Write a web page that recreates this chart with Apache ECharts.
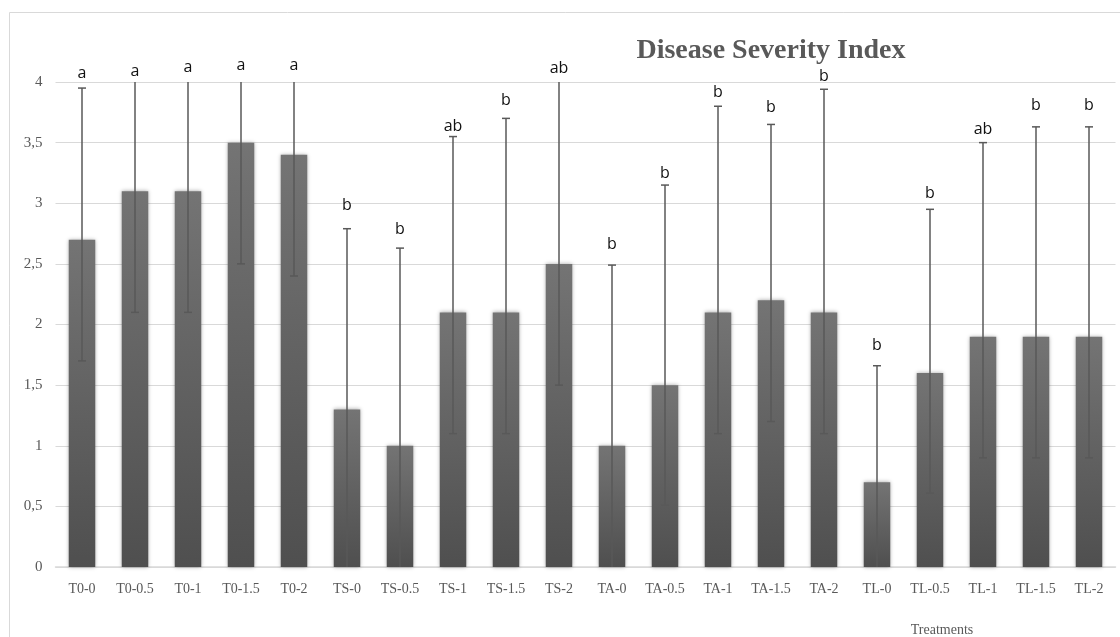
<!DOCTYPE html>
<html>
<head>
<meta charset="utf-8">
<script src="https://cdn.jsdelivr.net/npm/echarts@6/dist/echarts.min.js"></script>
<style>
html,body{margin:0;padding:0;background:#fff;}
#chart{width:1120px;height:637px;}
</style>
</head>
<body>
<div id="chart"></div>
<script>
const categories = ['T0-0','T0-0.5','T0-1','T0-1.5','T0-2','TS-0','TS-0.5','TS-1','TS-1.5','TS-2','TA-0','TA-0.5','TA-1','TA-1.5','TA-2','TL-0','TL-0.5','TL-1','TL-1.5','TL-2'];
const severity = [2.7,3.1,3.1,3.5,3.4,1.3,1.0,2.1,2.1,2.5,1.0,1.5,2.1,2.2,2.1,0.7,1.6,1.9,1.9,1.9];
const errLower = [1.7,2.1,2.1,2.5,2.4,-0.2,-0.63,1.1,1.1,1.5,-0.49,0.51,1.1,1.2,1.1,-0.26,0.61,0.9,0.9,0.9];
const errUpper = [3.95,4.1,4.1,4.5,4.4,2.79,2.63,3.55,3.7,4.05,2.49,3.15,3.8,3.65,3.94,1.66,2.95,3.5,3.63,3.63];
const letters = ['a','a','a','a','a','b','b','ab','b','ab','b','b','b','b','b','b','b','ab','b','b'];
const letterPos = [4.07,4.09,4.12,4.14,4.14,2.98,2.78,3.63,3.85,4.11,2.66,3.25,3.91,3.79,4.05,1.83,3.08,3.61,3.81,3.81];
const yTicks = {min:0, max:4, interval:0.5};

const chart = echarts.init(document.getElementById('chart'), null, {renderer:'canvas'});

const errData = categories.map((c,i)=>[i, errLower[i], errUpper[i]]);
const letterData = categories.map((c,i)=>[i, letterPos[i], letters[i]]);

const option = {
  backgroundColor:'#ffffff',
  animation:false,
  title:[{
    text:'Disease Severity Index',
    left:766, top:32, textAlign:'center',
    textStyle:{fontFamily:'Liberation Serif', fontWeight:'bold', fontSize:28, color:'#595959'}
  },{
    text:'Treatments',
    left:937, top:618, textAlign:'center',
    textStyle:{fontFamily:'Liberation Serif', fontWeight:'normal', fontSize:14, color:'#595959'}
  }],
  graphic:[{
    type:'rect', silent:true, z:-10,
    shape:{x:9.5, y:12.5, width:1130, height:640},
    style:{fill:'none', stroke:'#d9d9d9', lineWidth:1}
  }],
  grid:{left:55.5, right:4.5, top:82, bottom:70, containLabel:false},
  xAxis:{
    type:'category', data:categories, boundaryGap:true,
    axisLine:{show:true, lineStyle:{color:'#d9d9d9', width:1.5}},
    axisTick:{show:false},
    axisLabel:{fontFamily:'Liberation Serif', fontSize:14, color:'#595959', margin:15, interval:0}
  },
  yAxis:{
    type:'value', min:yTicks.min, max:yTicks.max, interval:yTicks.interval,
    axisLine:{show:false}, axisTick:{show:false},
    splitLine:{lineStyle:{color:'#d9d9d9', width:1.2}},
    axisLabel:{fontFamily:'Liberation Serif', fontSize:15, color:'#595959', margin:13,
      formatter:v=>String(v).replace('.',',')}
  },
  series:[{
    type:'bar', data:severity, barWidth:'50%',
    itemStyle:{
      color:new echarts.graphic.LinearGradient(0,0,0,1,[{offset:0,color:'#747474'},{offset:1,color:'#4f4f4f'}]),
      shadowBlur:4, shadowColor:'rgba(0,0,0,0.35)', shadowOffsetX:0, shadowOffsetY:0
    },
    z:2
  },{
    type:'custom', data:errData, z:5, clip:false,
    renderItem:function(params, api){
      const i = api.value(0), lo = api.value(1), hi = api.value(2);
      const loC = Math.max(yTicks.min, lo), hiC = Math.min(yTicks.max, hi);
      const x = api.coord([i, 0])[0];
      const yLo = api.coord([i, loC])[1];
      const yHi = api.coord([i, hiC])[1];
      const st = {stroke:'#595959', lineWidth:1.5};
      const ch = [{type:'line', shape:{x1:x,y1:yLo,x2:x,y2:yHi}, style:st}];
      if (hi <= yTicks.max) ch.push({type:'line', shape:{x1:x-4,y1:yHi,x2:x+4,y2:yHi}, style:st});
      if (lo >= yTicks.min) ch.push({type:'line', shape:{x1:x-4,y1:yLo,x2:x+4,y2:yLo}, style:st});
      return {type:'group', children:ch};
    }
  },{
    type:'custom', data:letterData, z:6, clip:false,
    renderItem:function(params, api){
      const i = api.value(0), v = api.value(1);
      const p = api.coord([i, v]);
      return {type:'text', x:p[0], y:p[1], style:{
        text:letters[params.dataIndex], fontFamily:'Open Sans', fontSize:16,
        fill:'#111', align:'center', verticalAlign:'middle'}};
    }
  }]
};
chart.setOption(option);
</script>
</body>
</html>
